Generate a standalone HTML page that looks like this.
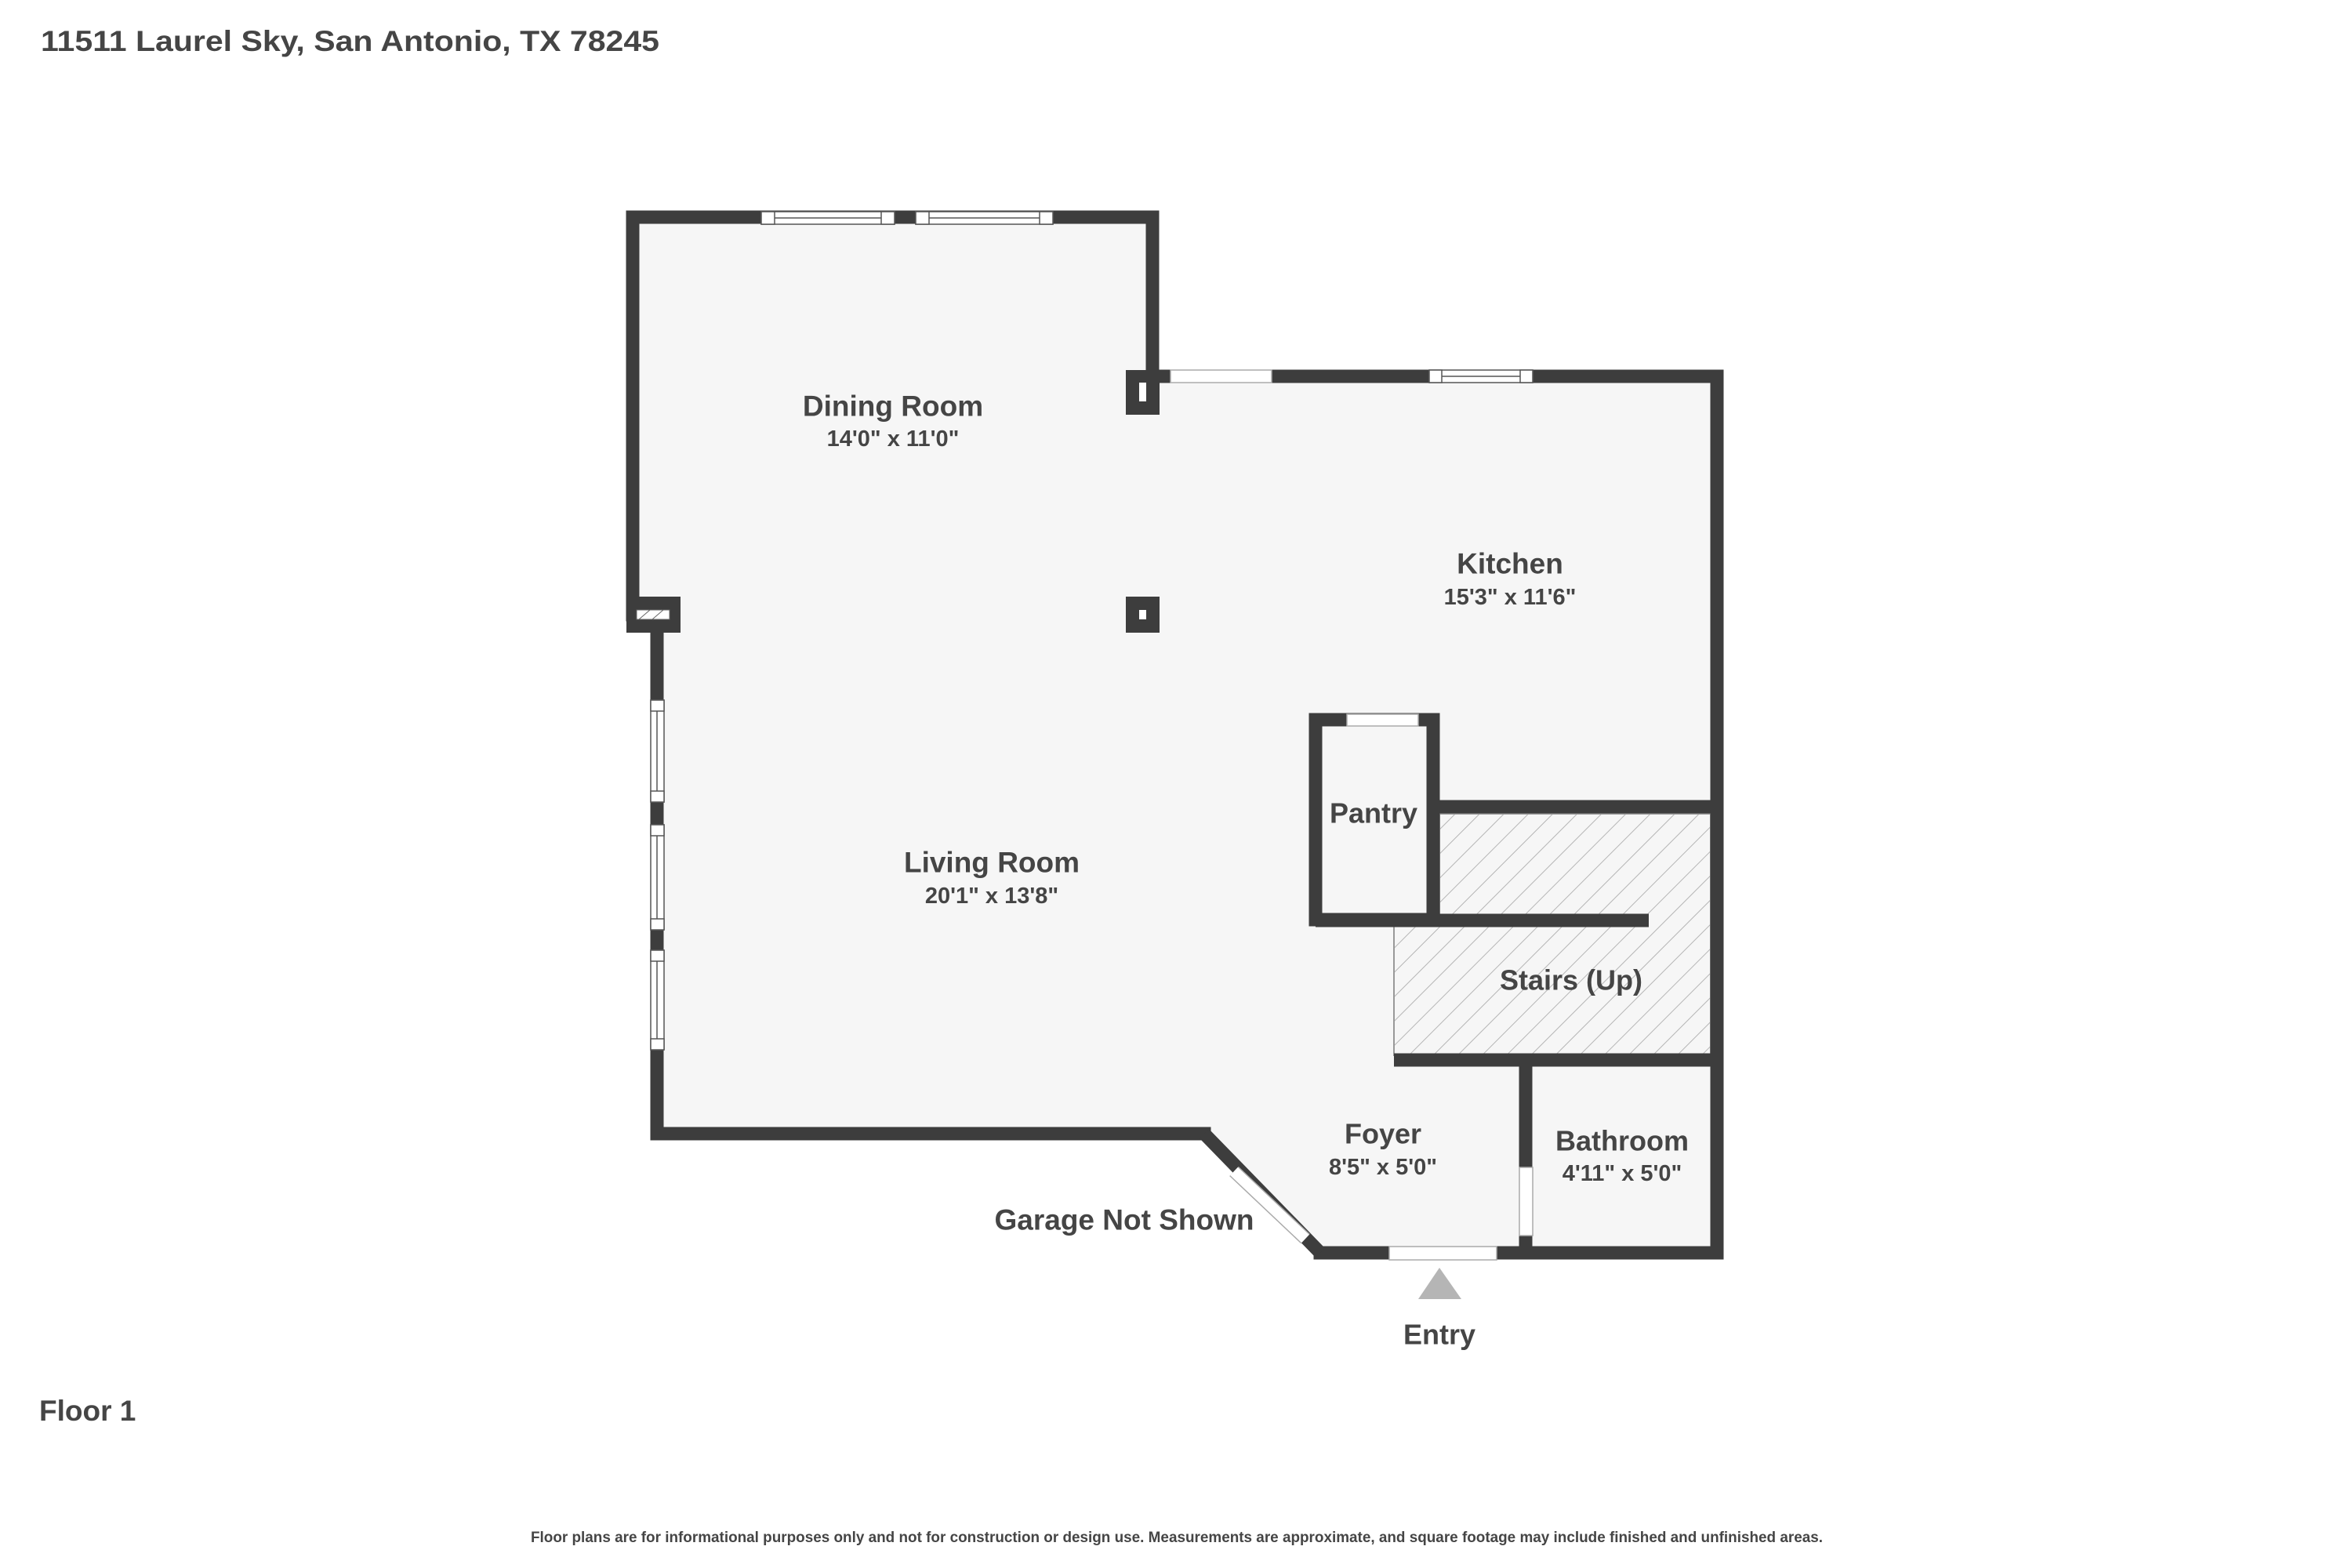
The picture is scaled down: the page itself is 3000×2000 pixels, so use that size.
<!DOCTYPE html>
<html><head><meta charset="utf-8"><style>
html,body{margin:0;padding:0;background:#fff;}
svg{display:block;}
text{font-family:"Liberation Sans",sans-serif;font-weight:bold;fill:#454545;}
</style></head><body>
<svg width="3000" height="2000" viewBox="0 0 3000 2000" xmlns="http://www.w3.org/2000/svg">
<defs>
<pattern id="h" patternUnits="userSpaceOnUse" width="22" height="22" patternTransform="rotate(45)">
<rect width="22" height="22" fill="#f6f6f6"/>
<line x1="0" y1="0" x2="0" y2="22" stroke="#b5b5b5" stroke-width="2"/>
</pattern>
</defs>
<rect width="3000" height="2000" fill="#fff"/>
<text x="52" y="65" font-size="37" textLength="789" lengthAdjust="spacingAndGlyphs">11511 Laurel Sky, San Antonio, TX 78245</text>

<polygon points="807,277 1470,277 1470,480 2190,480 2190,1598 1684,1598 1536,1446 838,1446 838,784 807,784" fill="#f6f6f6"/>
<polygon points="1836,1038 2182,1038 2182,1346 1778,1346 1778,1173 1836,1173" fill="url(#h)" stroke="#999" stroke-width="2"/>

<g stroke="#3d3d3d" stroke-width="17" fill="none" stroke-linejoin="miter" stroke-linecap="square">
<polyline points="807,784 807,277 1470,277 1470,480"/>
<polyline points="1470,480 2190,480 2190,1598 1684,1598"/>
<polyline points="1536,1446 838,1446 838,800"/>
<line x1="1536" y1="1446" x2="1684" y2="1598" stroke-linecap="butt"/>
<rect x="1678" y="918" width="150" height="255"/>
<line x1="1836" y1="1029" x2="2190" y2="1029"/>
<line x1="1678" y1="1174" x2="2103" y2="1174" stroke-linecap="butt"/>
<line x1="1778" y1="1352" x2="2190" y2="1352" stroke-linecap="butt"/>
<line x1="1946" y1="1352" x2="1946" y2="1598"/>
</g>
<rect x="799" y="761" width="69" height="46" fill="#3d3d3d"/>
<rect x="812" y="778" width="42" height="12" fill="#fff" stroke="#666" stroke-width="1"/>
<line x1="815" y1="790" x2="829" y2="778" stroke="#666" stroke-width="1"/>
<line x1="832" y1="790" x2="846" y2="778" stroke="#666" stroke-width="1"/>
<rect x="1436" y="761" width="43" height="46" fill="#3d3d3d"/>
<rect x="1453" y="778" width="9" height="12" fill="#fff"/>
<rect x="1436" y="472" width="43" height="57" fill="#3d3d3d"/>
<rect x="1453" y="488" width="9" height="24" fill="#fff"/>

<g fill="#fff" stroke="#555" stroke-width="1.5">
<rect x="971" y="270" width="170" height="16"/>
<rect x="971" y="270" width="17" height="16"/>
<rect x="1124" y="270" width="17" height="16"/>
<line x1="988" y1="278" x2="1124" y2="278"/>
<rect x="1168" y="270" width="175" height="16"/>
<rect x="1168" y="270" width="17" height="16"/>
<rect x="1326" y="270" width="17" height="16"/>
<line x1="1185" y1="278" x2="1326" y2="278"/>
<rect x="1493" y="472" width="129" height="16" stroke="#aaa"/>
<rect x="1823" y="472" width="132" height="16"/>
<rect x="1823" y="472" width="16" height="16"/>
<rect x="1939" y="472" width="16" height="16"/>
<line x1="1839" y1="480" x2="1939" y2="480"/>
<rect x="830" y="893" width="17" height="130"/>
<rect x="830" y="893" width="17" height="14"/><rect x="830" y="1009" width="17" height="14"/>
<line x1="838" y1="907" x2="838" y2="1009"/>
<rect x="830" y="1052" width="17" height="134"/>
<rect x="830" y="1052" width="17" height="14"/><rect x="830" y="1172" width="17" height="14"/>
<line x1="838" y1="1066" x2="838" y2="1172"/>
<rect x="830" y="1212" width="17" height="127"/>
<rect x="830" y="1212" width="17" height="14"/><rect x="830" y="1325" width="17" height="14"/>
<line x1="838" y1="1226" x2="838" y2="1325"/>
</g>
<rect x="1718" y="911" width="91" height="15" fill="#fff" stroke="#aaa" stroke-width="1.5"/>
<rect x="1772" y="1590" width="137" height="17" fill="#fff" stroke="#aaa" stroke-width="1.5"/>
<rect x="1938" y="1489" width="17" height="87" fill="#fff" stroke="#aaa" stroke-width="1.5"/>
<line x1="1574" y1="1494" x2="1665" y2="1580" stroke="#aaa" stroke-width="17"/>
<line x1="1574" y1="1494" x2="1665" y2="1580" stroke="#fff" stroke-width="14"/>
<polygon points="1836,1617 1864,1657 1809,1657" fill="#b5b5b5"/>

<g text-anchor="middle" dominant-baseline="central">
<text x="1139" y="518" font-size="37">Dining Room</text>
<text x="1139" y="560" font-size="29">14'0" x 11'0"</text>
<text x="1926" y="719" font-size="37">Kitchen</text>
<text x="1926" y="762" font-size="29">15'3" x 11'6"</text>
<text x="1265" y="1100" font-size="37">Living Room</text>
<text x="1265" y="1143" font-size="29">20'1" x 13'8"</text>
<text x="1752" y="1037" font-size="36">Pantry</text>
<text x="2004" y="1250" font-size="36">Stairs (Up)</text>
<text x="1764" y="1446" font-size="36">Foyer</text>
<text x="1764" y="1489" font-size="29">8'5" x 5'0"</text>
<text x="2069" y="1455" font-size="36">Bathroom</text>
<text x="2069" y="1497" font-size="29">4'11" x 5'0"</text>
<text x="1434" y="1556" font-size="37">Garage Not Shown</text>
<text x="1836" y="1702" font-size="36">Entry</text>
</g>
<text x="50" y="1812" font-size="37">Floor 1</text>
<text x="677" y="1967" font-size="19" textLength="1648" lengthAdjust="spacingAndGlyphs">Floor plans are for informational purposes only and not for construction or design use. Measurements are approximate, and square footage may include finished and unfinished areas.</text>
</svg>
</body></html>
